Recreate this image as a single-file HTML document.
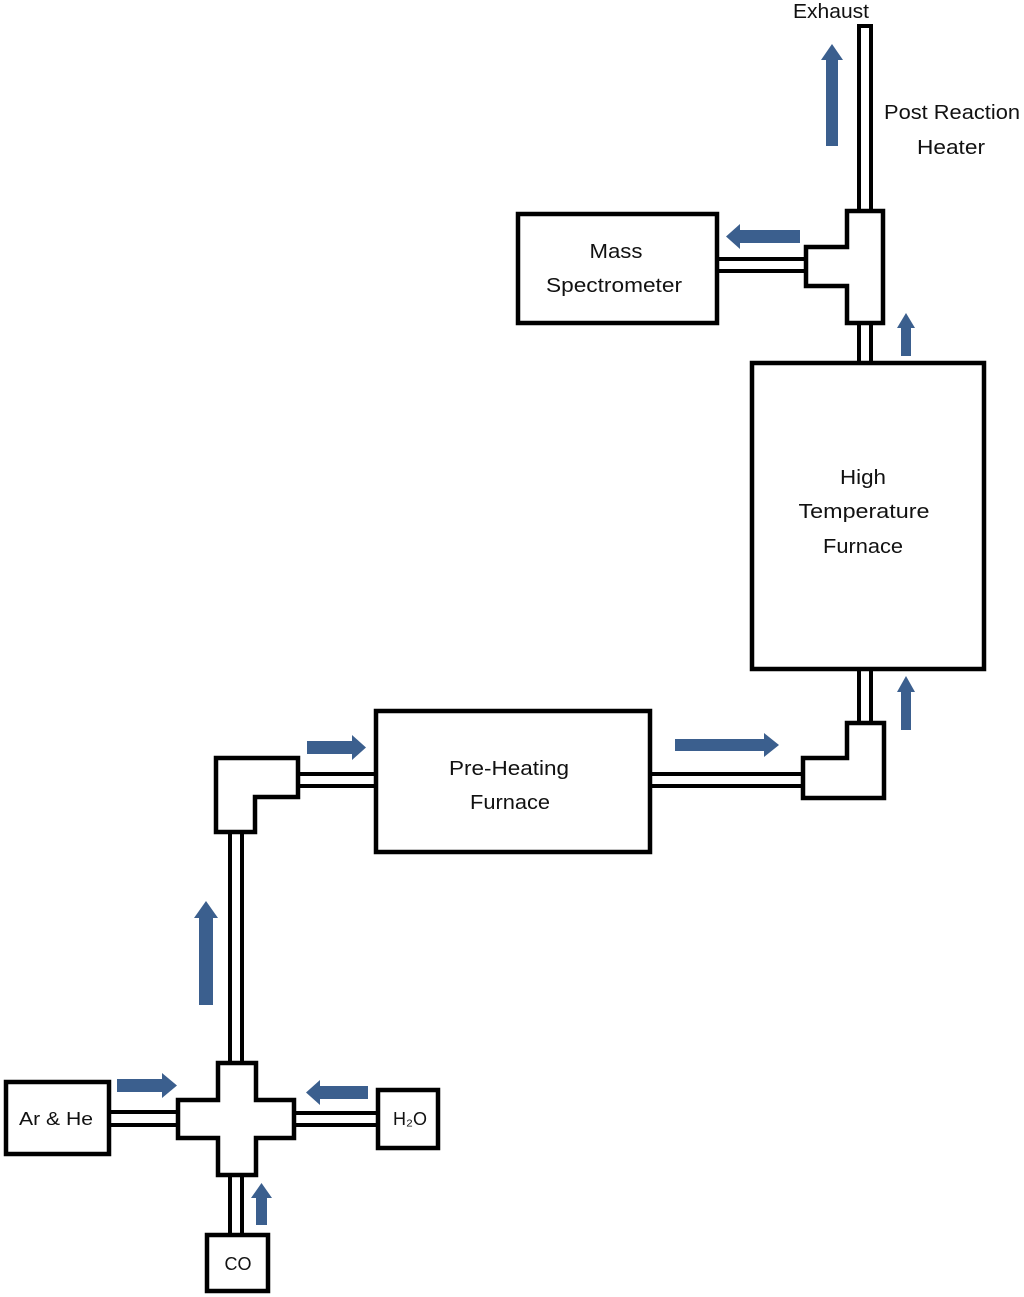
<!DOCTYPE html>
<html><head><meta charset="utf-8"><style>
html,body{margin:0;padding:0;background:#fff;}
svg{display:block;}
text{font-family:"Liberation Sans",sans-serif;font-size:20px;fill:#111;text-anchor:middle;}
</style></head><body>
<svg width="1024" height="1297" viewBox="0 0 1024 1297" xmlns="http://www.w3.org/2000/svg">
<g fill="#000">
<rect x="857" y="24" width="16" height="190"/>
<rect x="857" y="320" width="16" height="45"/>
<rect x="857" y="666" width="16" height="60"/>
<rect x="714" y="257" width="94" height="16"/>
<rect x="648" y="772" width="157" height="16"/>
<rect x="296" y="772" width="82" height="16"/>
<rect x="228" y="830" width="16" height="235"/>
<rect x="107" y="1110" width="73" height="17"/>
<rect x="292" y="1111" width="88" height="16"/>
<rect x="228" y="1173" width="16" height="64"/>
</g>
<g fill="#fff">
<rect x="861" y="28" width="8" height="190"/>
<rect x="861" y="318" width="8" height="49"/>
<rect x="861" y="664" width="8" height="64"/>
<rect x="712" y="261" width="98" height="8"/>
<rect x="646" y="776" width="161" height="8"/>
<rect x="294" y="776" width="86" height="8"/>
<rect x="232" y="828" width="8" height="239"/>
<rect x="105" y="1114" width="77" height="9"/>
<rect x="290" y="1115" width="92" height="8"/>
<rect x="232" y="1171" width="8" height="68"/>
</g>
<g fill="#fff" stroke="#000" stroke-width="4.5" stroke-linejoin="miter">
<rect x="518" y="214" width="199" height="109"/>
<rect x="752" y="363" width="232" height="306"/>
<rect x="376" y="711" width="274" height="141"/>
<rect x="6" y="1082" width="103" height="72"/>
<rect x="378" y="1090" width="60" height="58"/>
<rect x="207" y="1235" width="61" height="56"/>
<path d="M847 211 H883 V323 H847 V286 H806 V247 H847 Z"/>
<path d="M847 723 H884 V798 H803 V758 H847 Z"/>
<path d="M216 758 H298 V797 H255 V832 H216 Z"/>
<path d="M218 1063 H256 V1100 H294 V1138 H256 V1175 H218 V1138 H178 V1100 H218 Z"/>
</g>
<g fill="#3b5f8e">
<path d="M826 146 V60 H821 L832 44 L843 60 H838 V146 Z"/>
<path d="M901 356 V328 H897 L906 313 L915 328 H911 V356 Z"/>
<path d="M901 730 V692 H897 L906 676 L915 692 H911 V730 Z"/>
<path d="M199 1005 V918 H194 L206 901 L218 918 H213 V1005 Z"/>
<path d="M256 1225 V1198 H251 L261.5 1183 L272 1198 H267 V1225 Z"/>
<path d="M675 739 H764 V733 L779 745 L764 757 V751 H675 Z"/>
<path d="M307 741 H352 V735 L366 747.5 L352 760 V754 H307 Z"/>
<path d="M117 1079 H162 V1073 L177 1085.5 L162 1098 V1092 H117 Z"/>
<path d="M800 230 H740 V224 L726 236.5 L740 249 V243 H800 Z"/>
<path d="M368 1086 H320 V1080 L306 1092.5 L320 1105 V1099 H368 Z"/>
</g>
<text x="831" y="18" textLength="76" lengthAdjust="spacingAndGlyphs">Exhaust</text>
<text x="952" y="119" textLength="136" lengthAdjust="spacingAndGlyphs">Post Reaction</text>
<text x="951" y="154" textLength="68" lengthAdjust="spacingAndGlyphs">Heater</text>
<text x="616" y="258" textLength="53" lengthAdjust="spacingAndGlyphs">Mass</text>
<text x="614" y="292" textLength="136" lengthAdjust="spacingAndGlyphs">Spectrometer</text>
<text x="863" y="484" textLength="46" lengthAdjust="spacingAndGlyphs">High</text>
<text x="864" y="518" textLength="131" lengthAdjust="spacingAndGlyphs">Temperature</text>
<text x="863" y="553" textLength="80" lengthAdjust="spacingAndGlyphs">Furnace</text>
<text x="509" y="775" textLength="120" lengthAdjust="spacingAndGlyphs">Pre-Heating</text>
<text x="510" y="809" textLength="80" lengthAdjust="spacingAndGlyphs">Furnace</text>
<text x="56" y="1125" style="font-size:18px" textLength="74" lengthAdjust="spacingAndGlyphs">Ar &amp; He</text>
<text x="410" y="1125" style="font-size:18px">H₂O</text>
<text x="238" y="1270" style="font-size:18px">CO</text>
</svg>
</body></html>
